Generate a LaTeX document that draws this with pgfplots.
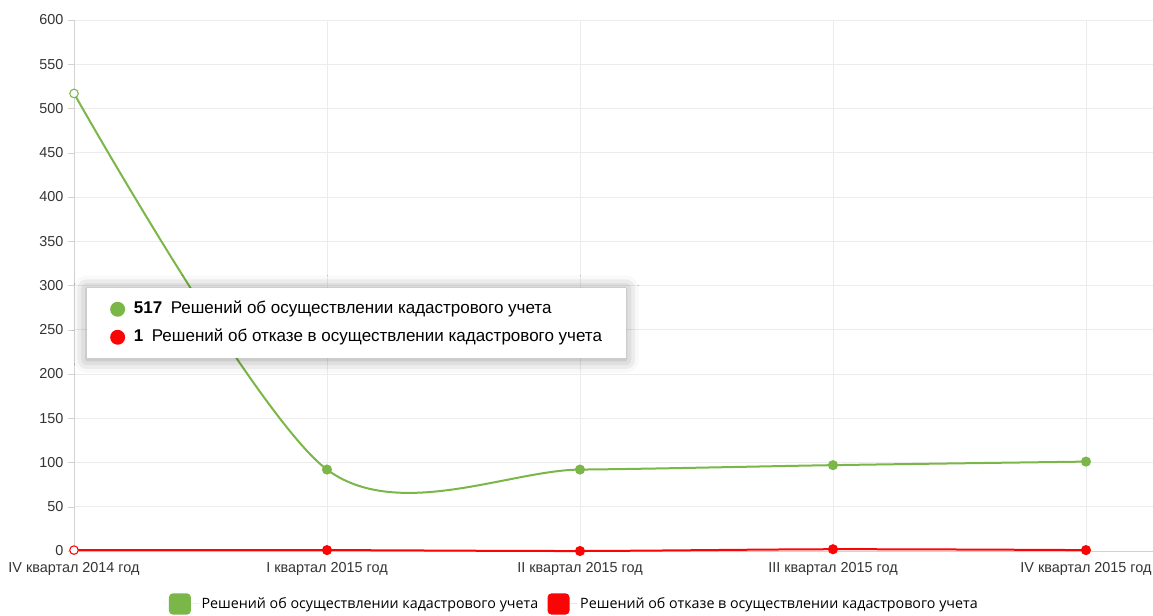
\documentclass[border=0pt]{standalone}
\usepackage{pgfplots}
\pgfplotsset{compat=1.18}
\usepackage{fontspec}
\setmainfont{Liberation Sans}
\newfontfamily\legfont{Open Sans}
\usetikzlibrary{shadows.blur}

\definecolor{cgreen}{RGB}{122,182,72}
\definecolor{cred}{RGB}{250,5,5}
\definecolor{cgrid}{RGB}{236,236,236}
\definecolor{caxis}{RGB}{210,210,210}

\begin{document}
\begin{tikzpicture}
\begin{axis}[
    scale only axis,
    width=809.25pt, height=398.25pt,
    xmin=0, xmax=4.265,
    ymin=0, ymax=600,
    xtick={0,1,2,3,4},
    xticklabels={IV квартал 2014 год, I квартал 2015 год, II квартал 2015 год, III квартал 2015 год, IV квартал 2015 год},
    ytick={0,50,...,600},
    axis lines*=left,
    axis line style={caxis},
    grid=major,
    grid style={cgrid, line width=0.6pt},
    xtick style={draw=none},
    ytick style={caxis},
    tick align=outside,
    major tick length=4.5pt,
    clip=false,
    /pgf/number format/assume math mode=true,
    tick label style={font=\fontsize{10.8}{12}\selectfont, text=black!80},
    x tick label style={yshift=-0.5pt},
    legend style={at={(0.4640,-0.0998)}, anchor=center, draw=none,
        font=\legfont\fontsize{10.7}{12}\selectfont,
        /tikz/every even column/.append style={column sep=5pt}},
    legend columns=2,
    legend cell align=left,
    legend image code/.code={\fill[#1, rounded corners=3pt] (0pt,-8pt) rectangle (16.5pt,8pt);
        \path (0pt,0pt) -- (22.5pt,0pt);},
]
\addlegendimage{fill=cgreen, draw=none}
\addlegendentry{Решений об осуществлении кадастрового учета}
\addlegendimage{fill=cred, draw=none}
\addlegendentry{Решений об отказе в осуществлении кадастрового учета}

% green series
\addplot[forget plot, cgreen, line width=1.5pt, smooth, mark=*, mark size=3pt,
    mark indices={2,3,4,5}, mark options={fill=cgreen, draw=none}]
    coordinates {(0,517)(1,92)(2,92)(3,97)(4,101)};
\addplot[forget plot, only marks, mark=*, mark size=3.2pt,
    mark options={fill=white, draw=cgreen, line width=0.8pt}]
    coordinates {(0,517)};

% red series
\addplot[forget plot, cred, line width=1.5pt, smooth, mark=*, mark size=3pt,
    mark indices={2,3,4,5}, mark options={fill=cred, draw=none}]
    coordinates {(0,1)(1,1)(2,0)(3,2)(4,1)};
\addplot[forget plot, only marks, mark=*, mark size=3.2pt,
    mark options={fill=white, draw=cred, line width=0.8pt}]
    coordinates {(0,1)};

% tooltip
\node[anchor=north west, fill=white, minimum width=404pt, minimum height=53pt,
    inner sep=0pt, blur shadow={shadow xshift=0pt, shadow yshift=-1pt, shadow blur radius=10pt, shadow opacity=40}]
    (tip) at (axis cs:0.05,298) {};
\fill[cgreen] ([xshift=23.25pt, yshift=-16.5pt]tip.north west) circle (5.6pt);
\fill[cred] ([xshift=23.25pt, yshift=-37.5pt]tip.north west) circle (5.6pt);
\node[anchor=west, inner sep=0pt, font=\fontsize{12.75}{14}\selectfont]
    at ([xshift=35.25pt, yshift=-16.5pt]tip.north west)
    {\textbf{517}\enspace Решений об осуществлении кадастрового учета};
\node[anchor=west, inner sep=0pt, font=\fontsize{12.75}{14}\selectfont]
    at ([xshift=35.25pt, yshift=-37.5pt]tip.north west)
    {\textbf{1}\enspace Решений об отказе в осуществлении кадастрового учета};
\end{axis}
\pgfresetboundingbox
\path (-55.5pt,-48.75pt) rectangle (809.25pt,413.25pt);
\end{tikzpicture}
\end{document}
